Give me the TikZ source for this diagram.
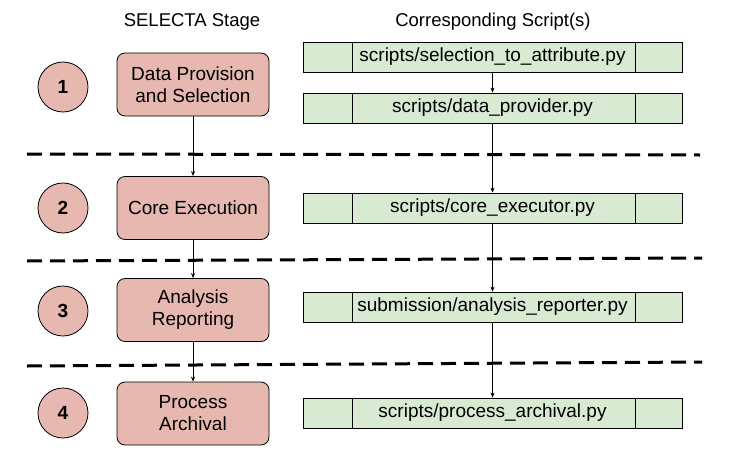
\documentclass[tikz,border=0pt]{standalone}
\usepackage{fontspec}
\setmainfont{Liberation Sans}
\usetikzlibrary{arrows.meta,positioning}
\definecolor{stagered}{HTML}{E6B8AF}
\definecolor{scriptgreen}{HTML}{D9EAD3}
\begin{document}
\begin{tikzpicture}[x=1pt, y=-1pt,
		stage/.style={rectangle, rounded corners=8pt, draw, fill=stagered, line width=0.8pt,
			minimum width=152pt, minimum height=63pt, align=center, font=\fontsize{19}{22}\selectfont},
		num/.style={circle, draw, fill=stagered, line width=0.8pt, minimum size=50pt, inner sep=0pt,
			font=\fontsize{19}{22}\selectfont\bfseries},
		script/.style={rectangle, draw, fill=scriptgreen, line width=0.8pt,
			minimum width=379pt, minimum height=30pt, inner sep=0pt, font=\fontsize{19}{22}\selectfont,
			path picture={
				\draw ([xshift=49pt]path picture bounding box.south west) -- ([xshift=49pt]path picture bounding box.north west);
				\draw ([xshift=-47pt]path picture bounding box.south east) -- ([xshift=-47pt]path picture bounding box.north east);
			}},
		link/.style={line width=0.8pt, -{Stealth[length=5pt,width=4pt]}},
		split/.style={line width=3pt, dash pattern=on 15pt off 8pt}
		]
	\useasboundingbox (0,0) rectangle (741,460);

	% headers
	\node [font=\fontsize{18.5}{22}\selectfont] (hstage) at (192,22) {SELECTA Stage};
	\node [font=\fontsize{18.5}{22}\selectfont] (hscript) at (493,22) {Corresponding Script(s)};

	% stage column
	\node [num] (c1) at (63,87) {1};
	\node [num] (c2) at (63,208) {2};
	\node [num] (c3) at (63,311) {3};
	\node [num] (c4) at (63,413) {4};
	\node [stage] (s1) at (193,84.5) {Data Provision\\and Selection};
	\node [stage] (s2) at (193,208) {Core Execution};
	\node [stage] (s3) at (193,310) {Analysis\\Reporting};
	\node [stage] (s4) at (193,413.5) {Process\\Archival};

	% script column
	\node [script] (p1) at (492.5,57) {scripts/selection\_to\_attribute.py};
	\node [script] (p2) at (492.5,108) {scripts/data\_provider.py};
	\node [script] (p3) at (492.5,208) {scripts/core\_executor.py};
	\node [script] (p4) at (492.5,307) {submission/analysis\_reporter.py};
	\node [script] (p5) at (492.5,413) {scripts/process\_archival.py};

	% dashed separators
	\coordinate (d1a) at (27,154); \coordinate (d1b) at (700,155);
	\coordinate (d2a) at (27,261); \coordinate (d2b) at (702,258);
	\coordinate (d3a) at (27,366); \coordinate (d3b) at (702,362);
	\draw [split] (d1a) -- (d1b);
	\draw [split] (d2a) -- (d2b);
	\draw [split] (d3a) -- (d3b);

	% connectors
	\draw [link] (s1) -- (s2);
	\draw [link] (s2) -- (s3);
	\draw [link] (s3) -- (s4);
	\draw [link] (p1) -- (p2);
	\draw [link] (p2) -- (p3);
	\draw [link] (p3) -- (p4);
	\draw [link] (p4) -- (p5);
\end{tikzpicture}
\end{document}
